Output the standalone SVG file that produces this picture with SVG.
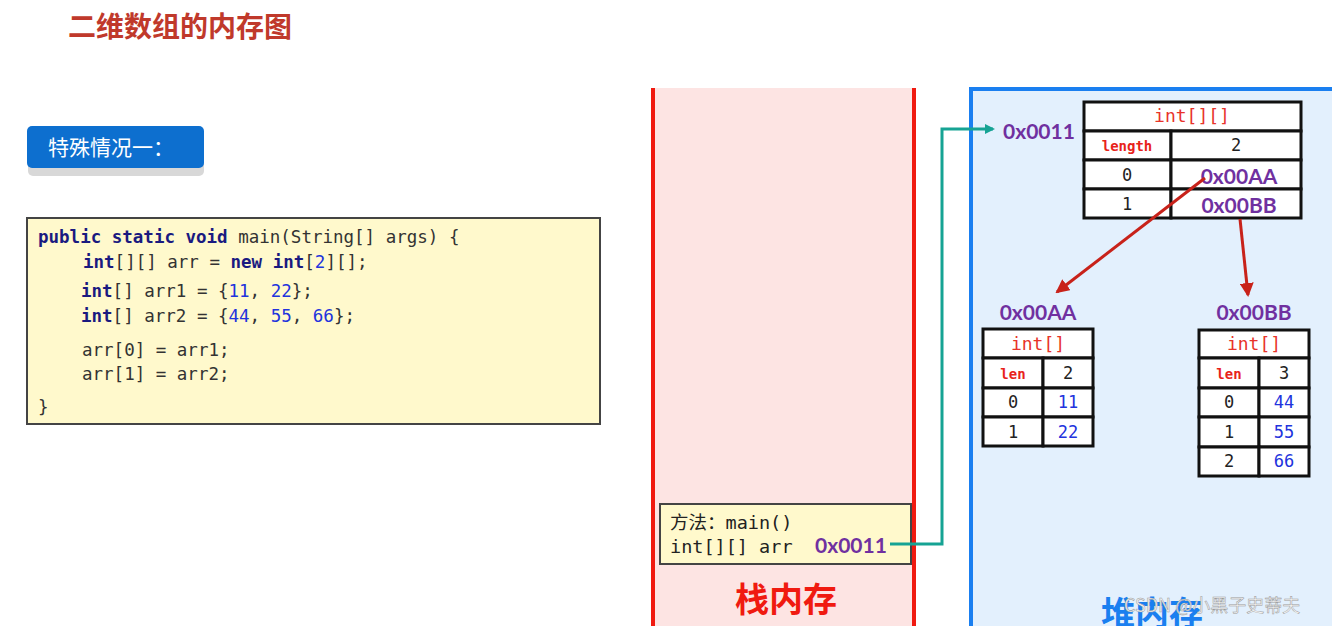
<svg xmlns="http://www.w3.org/2000/svg" width="1332" height="626" viewBox="0 0 1332 626">
<defs>
<style>
.mono{font-family:"DejaVu Sans Mono","Liberation Mono",monospace}
.code{font-family:"DejaVu Sans Mono","Liberation Mono",monospace;font-size:17.5px;fill:#333}
.kw{font-weight:bold;fill:#1a1a80}
.num{fill:#2233dd}
.addr{font-family:Lato,"Open Sans",sans-serif;font-weight:bold;font-size:21px;fill:#7030a0}
.cell{fill:#fff;stroke:#111;stroke-width:3}
.ct{font-family:"DejaVu Sans Mono","Liberation Mono",monospace;font-size:17px;fill:#222;text-anchor:middle}
.hd{font-family:"DejaVu Sans Mono","Liberation Mono",monospace;font-size:18px;fill:#e8332a;text-anchor:middle}
.lb{font-family:"DejaVu Sans Mono","Liberation Mono",monospace;font-size:14px;font-weight:bold;fill:#e8231a;text-anchor:middle}
.bl{fill:#2233dd}
.cjk{font-family:"Noto Sans CJK SC",sans-serif}
</style>
<marker id="ahT" markerWidth="10" markerHeight="10" refX="8" refY="5" orient="auto" markerUnits="userSpaceOnUse" viewBox="0 0 10 10"><path d="M0,0 L10,5 L0,10 z" fill="#16a394"/></marker>
<marker id="ahR" markerWidth="14" markerHeight="14" refX="12" refY="7" orient="auto" markerUnits="userSpaceOnUse" viewBox="0 0 14 14"><path d="M0,0 L14,7 L0,14 z" fill="#c8221a"/></marker>
</defs>
<rect width="1332" height="626" fill="#fff"/>
<g id="title"><text x="68" y="37" class="cjk" font-size="28" font-weight="bold" fill="#c0392b">二维数组的内存图</text></g>
<g id="badge">
<rect x="28" y="132" width="176" height="44" rx="5" fill="#d8d8d8"/>
<rect x="27" y="126" width="177" height="42" rx="5" fill="#0d6fcf"/>
<text x="48" y="155" class="cjk" font-size="21" fill="#fff">特殊情况一：</text>
</g>
<g id="code">
<rect x="27" y="218" width="573" height="206" fill="#fff9cc" stroke="#444" stroke-width="2"/>
<text x="38" y="243" class="code"><tspan class="kw">public static void</tspan> main(String[] args) {</text>
<text x="83" y="268" class="code"><tspan class="kw">int</tspan>[][] arr = <tspan class="kw">new int</tspan>[<tspan class="num">2</tspan>][];</text>
<text x="81" y="297" class="code"><tspan class="kw">int</tspan>[] arr1 = {<tspan class="num">11</tspan>, <tspan class="num">22</tspan>};</text>
<text x="81" y="322" class="code"><tspan class="kw">int</tspan>[] arr2 = {<tspan class="num">44</tspan>, <tspan class="num">55</tspan>, <tspan class="num">66</tspan>};</text>
<text x="82" y="356" class="code">arr[0] = arr1;</text>
<text x="82" y="380" class="code">arr[1] = arr2;</text>
<text x="38" y="413" class="code">}</text>
</g>
<g id="stack">
<rect x="652" y="88" width="262" height="540" fill="#fde4e3"/>
<line x1="653" y1="88" x2="653" y2="626" stroke="#f01a10" stroke-width="4"/>
<line x1="914" y1="88" x2="914" y2="626" stroke="#f01a10" stroke-width="4"/>
<text x="786" y="612" class="cjk" font-size="34" font-weight="bold" fill="#f01a10" text-anchor="middle">栈内存</text>
</g>
<g id="heap">
<rect x="971" y="89" width="370" height="545" fill="#e3f0fd" stroke="#1a7ff0" stroke-width="4"/>
<text x="1152" y="626" class="cjk" font-size="34" font-weight="bold" fill="#1a7ff0" text-anchor="middle">堆内存</text>
</g>
<g id="frame">
<rect x="660" y="504" width="251" height="60" fill="#fff9cc" stroke="#444" stroke-width="2"/>
<text x="670" y="529" font-size="18.5" fill="#222"><tspan class="cjk">方法：</tspan><tspan class="mono">main()</tspan></text>
<text x="670" y="553" class="mono" font-size="18.5" fill="#222">int[][] arr</text>
<text x="815" y="553" class="addr">0x0011</text>
</g>
<g id="arr2d">
<text x="1003" y="139" class="addr">0x0011</text>
<rect x="1084" y="102" width="217" height="29" class="cell"/>
<rect x="1084" y="131" width="87" height="29" class="cell"/>
<rect x="1171" y="131" width="130" height="29" class="cell"/>
<rect x="1084" y="160" width="87" height="29" class="cell"/>
<rect x="1171" y="160" width="130" height="29" class="cell"/>
<rect x="1084" y="189" width="87" height="29" class="cell"/>
<rect x="1171" y="189" width="130" height="29" class="cell"/>
<text x="1192" y="122" class="hd">int[][]</text>
<text x="1127" y="151" class="lb">length</text>
<text x="1236" y="151" class="ct">2</text>
<text x="1127" y="181" class="ct">0</text>
<text x="1239" y="184" class="addr" text-anchor="middle">0x00AA</text>
<text x="1127" y="210" class="ct">1</text>
<text x="1239" y="213" class="addr" text-anchor="middle">0x00BB</text>
</g>
<g id="arrA">
<text x="1038" y="320" class="addr" text-anchor="middle">0x00AA</text>
<rect x="983" y="329" width="110" height="29" class="cell"/>
<rect x="983" y="358" width="60" height="30" class="cell"/>
<rect x="1043" y="358" width="50" height="30" class="cell"/>
<rect x="983" y="388" width="60" height="29" class="cell"/>
<rect x="1043" y="388" width="50" height="29" class="cell"/>
<rect x="983" y="417" width="60" height="29" class="cell"/>
<rect x="1043" y="417" width="50" height="29" class="cell"/>
<text x="1038" y="350" class="hd">int[]</text>
<text x="1013" y="379" class="lb">len</text>
<text x="1068" y="379" class="ct">2</text>
<text x="1013" y="408" class="ct">0</text>
<text x="1068" y="408" class="ct bl">11</text>
<text x="1013" y="438" class="ct">1</text>
<text x="1068" y="438" class="ct bl">22</text>
</g>
<g id="arrB">
<text x="1254" y="320" class="addr" text-anchor="middle">0x00BB</text>
<rect x="1199" y="330" width="110" height="28" class="cell"/>
<rect x="1199" y="358" width="60" height="30" class="cell"/>
<rect x="1259" y="358" width="50" height="30" class="cell"/>
<rect x="1199" y="388" width="60" height="29" class="cell"/>
<rect x="1259" y="388" width="50" height="29" class="cell"/>
<rect x="1199" y="417" width="60" height="30" class="cell"/>
<rect x="1259" y="417" width="50" height="30" class="cell"/>
<rect x="1199" y="447" width="60" height="29" class="cell"/>
<rect x="1259" y="447" width="50" height="29" class="cell"/>
<text x="1254" y="350" class="hd">int[]</text>
<text x="1229" y="379" class="lb">len</text>
<text x="1284" y="379" class="ct">3</text>
<text x="1229" y="408" class="ct">0</text>
<text x="1284" y="408" class="ct bl">44</text>
<text x="1229" y="438" class="ct">1</text>
<text x="1284" y="438" class="ct bl">55</text>
<text x="1229" y="467" class="ct">2</text>
<text x="1284" y="467" class="ct bl">66</text>
</g>
<g id="connectors" fill="none">
<polyline points="890,544 942,544 942,129 993,129" stroke="#16a394" stroke-width="3" marker-end="url(#ahT)"/>
<line x1="1205" y1="178" x2="1057" y2="292" stroke="#c8221a" stroke-width="3" marker-end="url(#ahR)"/>
<line x1="1240" y1="219" x2="1248" y2="295" stroke="#c8221a" stroke-width="3" marker-end="url(#ahR)"/>
</g>
<g id="watermark"><text x="1124" y="612" class="cjk" font-size="18" fill="#f4f4f4" stroke="#9a9a9a" stroke-width="0.5">CSDN @小黑子史蒂夫</text></g>
</svg>
